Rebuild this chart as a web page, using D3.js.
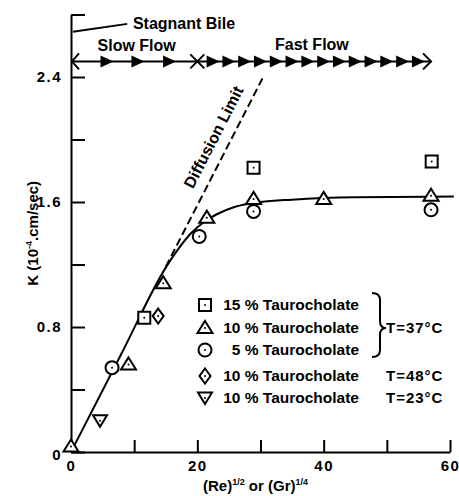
<!DOCTYPE html>
<html>
<head>
<meta charset="utf-8">
<script src="https://cdn.jsdelivr.net/npm/d3@7"></script>
<style>
  body { margin: 0; background: #fff; }
  text { font-family: "Liberation Sans", Arial, sans-serif; font-weight: bold; fill: #000; }
</style>
</head>
<body>
<script>
// axis ticks
const xTicks = [0, 10, 20, 30, 40, 50, 60];
const xLabels = [0, 20, 40, 60];
const yTicks = [0, 0.4, 0.8, 1.2, 1.6, 2.0, 2.4, 2.8];
const yLabels = [0, 0.8, 1.6, 2.4];

// measured points
const sq15X = [11.6, 28.9, 57.1];
const sq15Y = [0.86, 1.82, 1.86];
const tri10X = [0, 9.1, 14.6, 21.5, 28.9, 40, 57];
const tri10Y = [0.035, 0.56, 1.08, 1.50, 1.62, 1.62, 1.64];
const circ5X = [6.5, 20.3, 28.9, 57];
const circ5Y = [0.54, 1.38, 1.54, 1.55];
const dia48X = [13.8];
const dia48Y = [0.87];
const inv23X = [4.6];
const inv23Y = [0.20];

// fitted curve and diffusion limit
const fitX = [0, 8, 15, 17, 19, 21, 23, 26, 30, 35, 45, 60.6];
const fitY = [0, 0.63, 1.18, 1.30, 1.40, 1.47, 1.52, 1.57, 1.60, 1.615, 1.63, 1.635];
const diffX = [15, 30.3];
const diffY = [1.185, 2.39];

// flow regimes line (y = 2.5)
const flowY = 2.5;
const flowStart = 0, flowSwitch = 20, flowEnd = 57;
const slowMarks = [5.7, 10.6, 15.6];
const fastMarks = [22.5, 25, 27.5, 30, 32.5, 35, 37.5, 40, 42.5, 45, 47.5, 50, 52.5, 55];

const legendLabels = ['15 % Taurocholate', '10 % Taurocholate', '5 % Taurocholate', '10 % Taurocholate', '10 % Taurocholate'];
const legendShapes = ['square', 'triangle', 'circle', 'diamond', 'invtriangle'];

const WIDTH = 459, HEIGHT = 496;

const svg = d3.select('body').append('svg')
    .attr('width', WIDTH)
    .attr('height', HEIGHT);

const x = d3.scaleLinear().domain([0, 60]).range([71, 450]);
const y = d3.scaleLinear().domain([0, 2.8]).range([452, 14.5]);

// marker paths
function shapePath(shape) {
    switch (shape) {
        case 'square': return 'M-6,-6H6V6H-6Z';
        case 'triangle': return 'M0,-7L7.5,5L-7.5,5Z';
        case 'invtriangle': return 'M0,6L7,-5.5L-7,-5.5Z';
        case 'diamond': return 'M0,-7.5L5.5,0L0,7.5L-5.5,0Z';
        default: return null;
    }
}

function drawMarker(g, shape) {
    if (shape === 'circle') {
        g.append('circle').attr('r', 6.5)
            .attr('fill', '#fff').attr('stroke', '#000').attr('stroke-width', 2);
    } else {
        g.append('path').attr('d', shapePath(shape))
            .attr('fill', '#fff').attr('stroke', '#000').attr('stroke-width', 2)
            .attr('stroke-linejoin', 'miter');
    }
    g.append('circle').attr('r', 1).attr('fill', '#000');
}

// Y axis
const yAxis = d3.axisLeft(y)
    .tickValues(yTicks)
    .tickSizeInner(-14)
    .tickSizeOuter(0)
    .tickPadding(9)
    .tickFormat(d => yLabels.some(v => Math.abs(v - d) < 1e-9) ? (d === 0 ? '0' : d3.format('.1f')(d)) : '');
const gy = svg.append('g')
    .attr('transform', `translate(${x(0)},0)`)
    .call(yAxis);
gy.select('.domain').attr('stroke-width', 2);
gy.selectAll('.tick line').attr('stroke-width', 2);
gy.selectAll('.tick text')
    .attr('font-size', 15)
    .attr('letter-spacing', 1.5)
    .attr('dy', d => d === 0 ? '0.5em' : '0.32em');

// X axis
const xAxis = d3.axisBottom(x)
    .tickValues(xTicks)
    .tickSizeInner(-12)
    .tickSizeOuter(0)
    .tickPadding(8)
    .tickFormat(d => xLabels.includes(d) ? d : '');
const gx = svg.append('g')
    .attr('transform', `translate(0,${y(0)})`)
    .call(xAxis);
gx.select('.domain').attr('stroke-width', 2);
gx.selectAll('.tick line').attr('stroke-width', 2);
gx.selectAll('.tick text').attr('font-size', 15).attr('letter-spacing', 1.5);

// axis titles
const yt = svg.append('text')
    .attr('transform', `translate(38,${(y(0) + y(2.8)) / 2}) rotate(-90)`)
    .attr('text-anchor', 'middle')
    .attr('font-size', 15);
yt.append('tspan').text('K (10');
yt.append('tspan').text('-4').attr('font-size', 9).attr('dy', -6);
yt.append('tspan').text('.cm/sec)').attr('dy', 6);

const xt = svg.append('text')
    .attr('x', 203)
    .attr('y', 491)
    .attr('font-size', 15);
xt.append('tspan').text('(Re)');
xt.append('tspan').text('1/2').attr('font-size', 9).attr('dy', -6);
xt.append('tspan').text(' or (Gr)').attr('dy', 6);
xt.append('tspan').text('1/4').attr('font-size', 9).attr('dy', -6);

// diffusion limit (dashed)
svg.append('path')
    .datum(diffX.map((d, i) => [d, diffY[i]]))
    .attr('d', d3.line().x(d => x(d[0])).y(d => y(d[1])))
    .attr('fill', 'none')
    .attr('stroke', '#000')
    .attr('stroke-width', 2)
    .attr('stroke-dasharray', '8,4');

const diffAngle = Math.atan2(y(diffY[0]) - y(diffY[1]), x(diffX[1]) - x(diffX[0])) * 180 / Math.PI;
svg.append('text')
    .attr('transform', `translate(${x(19.3)},${y(1.68)}) rotate(${-diffAngle})`)
    .attr('font-size', 16)
    .text('Diffusion Limit');

// fitted curve
svg.append('path')
    .datum(fitX.map((d, i) => [d, fitY[i]]))
    .attr('d', d3.line().x(d => x(d[0])).y(d => y(d[1])).curve(d3.curveMonotoneX))
    .attr('fill', 'none')
    .attr('stroke', '#000')
    .attr('stroke-width', 2);

// data markers
const series = [
    { shape: 'square', xs: sq15X, ys: sq15Y },
    { shape: 'triangle', xs: tri10X, ys: tri10Y },
    { shape: 'circle', xs: circ5X, ys: circ5Y },
    { shape: 'diamond', xs: dia48X, ys: dia48Y },
    { shape: 'invtriangle', xs: inv23X, ys: inv23Y }
];
series.forEach(s => {
    s.xs.forEach((xv, i) => {
        const g = svg.append('g').attr('transform', `translate(${x(xv)},${y(s.ys[i])})`);
        drawMarker(g, s.shape);
    });
});

// flow regime line
const fy = y(flowY);
svg.append('line')
    .attr('x1', x(flowStart)).attr('x2', x(flowEnd))
    .attr('y1', fy).attr('y2', fy)
    .attr('stroke', '#000').attr('stroke-width', 2);
// left open arrow
svg.append('path')
    .attr('d', `M${x(flowStart) + 8},${fy - 8}L${x(flowStart) + 1},${fy}L${x(flowStart) + 8},${fy + 8}`)
    .attr('fill', 'none').attr('stroke', '#000').attr('stroke-width', 2);
// right open arrow
svg.append('path')
    .attr('d', `M${x(flowEnd) - 8},${fy - 8}L${x(flowEnd)},${fy}L${x(flowEnd) - 8},${fy + 8}`)
    .attr('fill', 'none').attr('stroke', '#000').attr('stroke-width', 2);
// X at regime switch
svg.append('path')
    .attr('d', `M${x(flowSwitch) - 7},${fy - 7}L${x(flowSwitch) + 7},${fy + 7}M${x(flowSwitch) - 7},${fy + 7}L${x(flowSwitch) + 7},${fy - 7}`)
    .attr('stroke', '#000').attr('stroke-width', 2);
// filled arrow heads
svg.selectAll('path.flow-mark')
    .data(slowMarks.concat(fastMarks))
    .join('path')
    .attr('class', 'flow-mark')
    .attr('d', d => `M${x(d) - 6.5},${fy - 6}L${x(d) + 6.5},${fy}L${x(d) - 6.5},${fy + 6}Z`)
    .attr('fill', '#000');

svg.append('text').attr('x', x(4.2)).attr('y', 51).attr('font-size', 16).text('Slow Flow');
svg.append('text').attr('x', x(32.3)).attr('y', 50).attr('font-size', 16).text('Fast Flow');

// stagnant bile
svg.append('line')
    .attr('x1', x(0.3)).attr('y1', y(2.69))
    .attr('x2', x(8.9)).attr('y2', y(2.74))
    .attr('stroke', '#000').attr('stroke-width', 2);
svg.append('text').attr('x', x(9.8)).attr('y', 29).attr('font-size', 16).text('Stagnant Bile');

// legend
const legendRowsY = [305, 328, 350, 376, 398];
const legend = svg.append('g').attr('class', 'legend');
legendLabels.forEach((lab, i) => {
    const g = legend.append('g').attr('transform', `translate(205,${legendRowsY[i]})`);
    drawMarker(g, legendShapes[i]);
    g.append('text')
        .attr('x', 154)
        .attr('dy', '0.35em')
        .attr('text-anchor', 'end')
        .attr('font-size', 15.5)
        .text(lab);
});
// brace for T = 37 C
legend.append('path')
    .attr('d', 'M372,293Q380,293 380,300V321Q380,328 386,328Q380,328 380,335V350Q380,357 372,357')
    .attr('fill', 'none').attr('stroke', '#000').attr('stroke-width', 2);
legend.append('text').attr('x', 386).attr('y', legendRowsY[1]).attr('dy', '0.35em').attr('font-size', 15).attr('letter-spacing', 1).text('T=37°C');
legend.append('text').attr('x', 386).attr('y', legendRowsY[3]).attr('dy', '0.35em').attr('font-size', 15).attr('letter-spacing', 1).text('T=48°C');
legend.append('text').attr('x', 386).attr('y', legendRowsY[4]).attr('dy', '0.35em').attr('font-size', 15).attr('letter-spacing', 1).text('T=23°C');
</script>
</body>
</html>
